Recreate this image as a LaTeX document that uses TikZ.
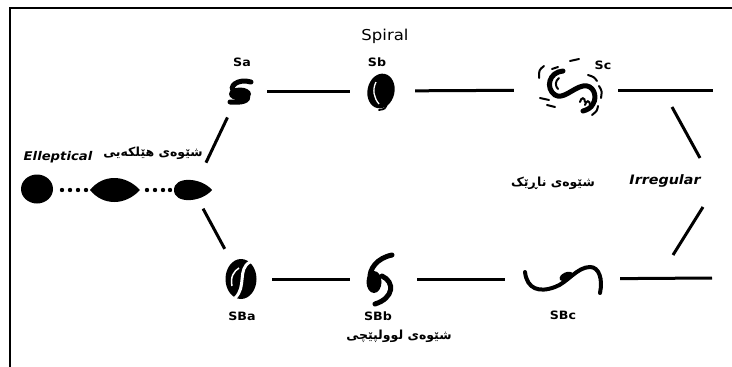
\documentclass[tikz,border=0pt]{standalone}
\usepackage{fontspec}
\usepackage{tikz}
\setmainfont{DejaVu Sans}
\newfontfamily\handfont[FakeStretch=1.1]{DejaVu Sans}
\newfontfamily\kufont[Script=Arabic]{DejaVu Sans}
\TeXXeTstate=1

\begin{document}
\begin{tikzpicture}[
  x=1pt, y=-1pt,
  gal/.style={inner sep=0pt, minimum size=0pt},
  link/.style={line width=3pt},
  arm/.style={line width=5pt, line cap=round},
  rim/.style={line width=2pt, line cap=round},
  tag/.style={font=\handfont\fontsize{11.5}{12}\selectfont\bfseries, inner sep=0pt},
  cls/.style={font=\handfont\fontsize{13}{14}\selectfont\bfseries\itshape, inner sep=0pt},
  kurd/.style={font=\kufont\fontsize{12.5}{15}\selectfont\bfseries, inner sep=0pt},
]
\useasboundingbox (0,0) rectangle (732,367);
% frame
\draw[line width=2.8pt] (10,367) -- (10,8) -- (732,8);

% galaxy positions
\node[gal] (E0) at (37,189) {};
\node[gal] (E1) at (115,190) {};
\node[gal] (E2) at (193,190) {};
\node[gal] (Sa) at (240,91) {};
\node[gal] (Sb) at (381,91) {};
\node[gal] (Sc) at (571,90) {};
\node[gal] (SBa) at (241,279) {};
\node[gal] (SBb) at (381,279) {};
\node[gal] (SBc) at (563,279) {};
\coordinate (ScEnd) at (713,90);
\coordinate (SBcEnd) at (712,278);
\coordinate (irrA) at (672,107);
\coordinate (irrB) at (700,158);
\coordinate (irrC) at (703,207);
\coordinate (irrD) at (673,255);

% Elliptical
\fill[shift={(E0)}] (0,0) ellipse (16 and 14.5);
\fill[shift={(E1)}] (-25,0) .. controls (-12,-16) and (10,-16) .. (25,0)
  .. controls (10,16) and (-12,16) .. (-25,0) -- cycle;
\fill[shift={(E2)}] (-19,0) .. controls (-19,-14) and (8,-13) .. (19,0)
  .. controls (8,13) and (-19,14) .. (-19,0) -- cycle;
\foreach \x in {62,70,78,86,147,155,163,170}
  \fill (\x,190) circle (2.2);

% Sa
\begin{scope}[shift={(Sa)}]
  \fill (0,3) ellipse (11 and 6.5);
  \draw[arm] (11,-9) .. controls (-2,-13) and (-13,-4) .. (-5,1);
  \draw[arm] (7,4) .. controls (10,10) and (2,12) .. (-10,11);
\end{scope}

% Sb
\begin{scope}[shift={(Sb)}]
  \fill[rotate=-12] (0,0) ellipse (13.5 and 17.5);
  \draw[white, line width=1.3pt] (-5,-9) .. controls (-9,-1) and (-7,7) .. (-2,13);
  \draw[line width=1.8pt, line cap=round] (6,13) .. controls (4,18) .. (-2,19);
\end{scope}

% Sc
\begin{scope}[shift={(Sc)}]
  \draw[arm] (-8,-19) .. controls (-22,-18) and (-26,-2) .. (-16,5)
    .. controls (-8,10) and (2,-2) .. (12,-4)
    .. controls (22,-6) and (27,6) .. (22,14)
    .. controls (20,18) and (16,20) .. (12,21);
  \draw[rim] (-12,-12) .. controls (-16,-9) and (-16,-4) .. (-13,-1);
  \draw[rim] (9,12) .. controls (10,7) and (14,7) .. (14,12);
  \draw[rim] (14,15) .. controls (15,10) and (19,10) .. (19,15);
  \draw[rim] (-27,-24) .. controls (-32,-20) .. (-32,-12);
  \draw[rim] (-19,-21) -- (-13,-23);
  \draw[rim] (-1,-29) -- (8,-31);
  \draw[rim] (17,-15) .. controls (23,-13) .. (26,-9);
  \draw[rim] (28,-4) .. controls (31,1) .. (30,8);
  \draw[rim] (27,16) .. controls (26,21) .. (21,25);
  \draw[rim] (-31,8) -- (-22,10);
  \draw[rim] (-24,15) -- (-16,17);
\end{scope}

% SBa
\begin{scope}[shift={(SBa)}]
  \fill (0,0) ellipse (15.5 and 20);
  \draw[white, line width=3pt] (9,-17) .. controls (-4,-10) and (6,8) .. (-6,19);
  \draw[white, line width=1.5pt] (-9,7) .. controls (-11,-2) and (-7,-8) .. (-2,-11);
\end{scope}

% SBb
\begin{scope}[shift={(SBb)}]
  \draw[arm] (11,-24) .. controls (-4,-21) and (-12,-10) .. (-11,0);
  \fill (-7,3) ellipse (7.5 and 11);
  \draw[arm] (1,-3) .. controls (14,3) and (13,19) .. (-6,25);
\end{scope}

% SBc
\begin{scope}[shift={(SBc)}]
  \draw[line width=4pt, line cap=round] (-38,-7) .. controls (-36,10) and (-24,14) .. (-8,8)
    .. controls (4,4) and (14,-12) .. (27,-12)
    .. controls (36,-12) and (40,0) .. (37,14);
  \fill[rotate=25] (4,-1) ellipse (7 and 4);
\end{scope}

% connectors
\draw[link, shorten <=30pt, shorten >=29pt] (E2) -- (Sa);
\draw[link, shorten <=21pt, shorten >=34pt] (E2) -- (SBa);
\draw[link, shorten <=27pt, shorten >=31pt] (Sa) -- (Sb);
\draw[link, shorten <=34pt, shorten >=57pt] (Sb) -- (Sc);
\draw[link, shorten <=47pt] (Sc) -- (ScEnd);
\draw[link, shorten <=31pt, shorten >=31pt] (SBa) -- (SBb);
\draw[link, shorten <=36pt, shorten >=58pt] (SBb) -- (SBc);
\draw[link, shorten <=57pt] (SBc) -- (SBcEnd);
\draw[link] (irrA) -- (irrB);
\draw[link] (irrC) -- (irrD);

% labels
\node[tag] (tSa) at (242,62) {Sa};
\node[tag] (tSb) at (377,62) {Sb};
\node[tag] (tSc) at (603,65) {Sc};
\node[tag] (tSBa) at (242,316) {SBa};
\node[tag] (tSBb) at (378,316) {SBb};
\node[tag] (tSBc) at (563,315) {SBc};
\node[font=\handfont\fontsize{15}{16}\selectfont, inner sep=0pt] (spiral) at (385,36) {Spiral};
\node[cls, font=\handfont\fontsize{12}{13}\selectfont\bfseries\itshape] (ell) at (58,157) {Elleptical};
\node[cls] (irr) at (665,181) {Irregular};
\node[kurd] (kEll) at (153,153) {\beginR شێوەی هێلکەیی\endR};
\node[kurd] (kIrr) at (553,183) {\beginR شێوەی ناڕێک\endR};
\node[kurd] (kSp) at (399,336) {\beginR شێوەی لوولپێچی\endR};
\end{tikzpicture}
\end{document}
